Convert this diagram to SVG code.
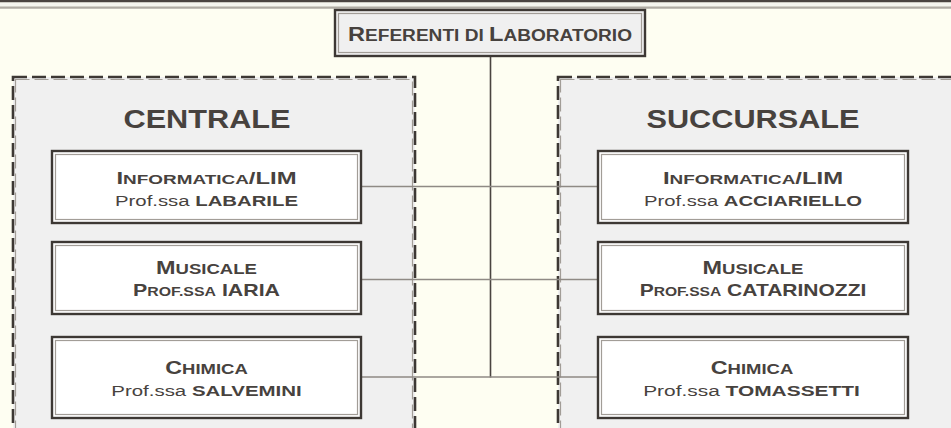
<svg xmlns="http://www.w3.org/2000/svg" width="951" height="428" viewBox="0 0 951 428">
<defs>
<style>
.bg{fill:#fefef2}
.cont{fill:#f0f0f0;stroke:none}
.dash{fill:none;stroke:#3d3834;stroke-width:2.6;stroke-dasharray:14 5}
.dash2{fill:none;stroke:#a29d97;stroke-width:1.2;stroke-dasharray:14 5}
.box{fill:#ffffff;stroke:#3d3834;stroke-width:2.4}
.boxin{fill:none;stroke:#a29d97;stroke-width:1.2}
.top{fill:#f0f0f0;stroke:#3d3834;stroke-width:2.4}
.t{font-family:"Liberation Sans",Arial,sans-serif;fill:#47423e;text-anchor:middle}
.b{font-weight:bold}
.title{font-family:"Liberation Sans",Arial,sans-serif;font-weight:bold;fill:#47423e;text-anchor:middle;font-size:25px}
.hl{stroke:#8f8a85;stroke-width:1.5;fill:none}
.vl{stroke:#4a4440;stroke-width:1.6;fill:none}
</style>
</defs>
<rect class="bg" x="0" y="0" width="951" height="428"/>
<rect x="0" y="0" width="951" height="2.5" fill="#4a4440"/>
<rect x="0" y="2.5" width="951" height="4" fill="#f5f5ee"/>
<rect x="0" y="6.5" width="951" height="1" fill="#aaa59e"/>
<rect x="0" y="7.5" width="951" height="1" fill="#8a847e"/>

<g id="centrale">
<rect class="cont" x="13" y="77" width="402" height="360"/>
<rect class="dash" x="13" y="77" width="402" height="360"/>
<rect class="dash2" x="15.5" y="79.5" width="397" height="360"/>
<text class="title" x="207" y="127.7" textLength="167" lengthAdjust="spacingAndGlyphs">CENTRALE</text>
</g>
<g id="succursale">
<rect class="cont" x="558" y="77" width="402" height="360"/>
<rect class="dash" x="558" y="77" width="402" height="360"/>
<rect class="dash2" x="560.5" y="79.5" width="397" height="360"/>
<text class="title" x="753" y="127.7" textLength="213" lengthAdjust="spacingAndGlyphs">SUCCURSALE</text>
</g>

<g id="connectors">
<line class="vl" x1="490.5" y1="56" x2="490.5" y2="377.5"/>
<line class="hl" x1="361" y1="186.5" x2="598" y2="186.5"/>
<line class="hl" x1="361" y1="279.5" x2="598" y2="279.5"/>
<line class="hl" x1="361" y1="377" x2="598" y2="377" stroke="#6f6a65"/>
</g>

<g id="referenti">
<rect class="top" x="335" y="10" width="310" height="46"/>
<rect class="boxin" x="338.5" y="13.5" width="303" height="39"/>
<text class="t b" x="490" y="40.7" textLength="284" lengthAdjust="spacingAndGlyphs"><tspan font-size="19.5">R</tspan><tspan font-size="15.8">EFERENTI DI </tspan><tspan font-size="19.5">L</tspan><tspan font-size="15.8">ABORATORIO</tspan></text>
</g>

<g id="c-informatica">
<rect class="box" x="52" y="151" width="309" height="72"/>
<rect class="boxin" x="55.5" y="154.5" width="302" height="65"/>
<text class="t b" x="206.5" y="184" textLength="180" lengthAdjust="spacingAndGlyphs"><tspan font-size="17">I</tspan><tspan font-size="13.5">NFORMATICA</tspan><tspan font-size="17">/LIM</tspan></text>
<text class="t" x="206.5" y="206" font-size="15.4" textLength="183" lengthAdjust="spacingAndGlyphs">Prof.ssa <tspan class="b">LABARILE</tspan></text>
</g>
<g id="c-musicale">
<rect class="box" x="52" y="242" width="309" height="72"/>
<rect class="boxin" x="55.5" y="245.5" width="302" height="65"/>
<text class="t b" x="206.5" y="274.3" textLength="101" lengthAdjust="spacingAndGlyphs"><tspan font-size="17.7">M</tspan><tspan font-size="14">USICALE</tspan></text>
<text class="t b" x="206.5" y="296" textLength="147" lengthAdjust="spacingAndGlyphs"><tspan font-size="16.3">P</tspan><tspan font-size="12.1">ROF.SSA</tspan><tspan font-size="16.3"> IARIA</tspan></text>
</g>
<g id="c-chimica">
<rect class="box" x="52" y="337" width="309" height="81"/>
<rect class="boxin" x="55.5" y="340.5" width="302" height="74"/>
<text class="t b" x="206.5" y="374" textLength="82.5" lengthAdjust="spacingAndGlyphs"><tspan font-size="17.7">C</tspan><tspan font-size="14">HIMICA</tspan></text>
<text class="t" x="206.5" y="395.7" font-size="15.4" textLength="190.5" lengthAdjust="spacingAndGlyphs">Prof.ssa <tspan class="b">SALVEMINI</tspan></text>
</g>

<g id="s-informatica">
<rect class="box" x="598" y="151" width="310" height="72"/>
<rect class="boxin" x="601.5" y="154.5" width="303" height="65"/>
<text class="t b" x="753" y="184" textLength="180" lengthAdjust="spacingAndGlyphs"><tspan font-size="17">I</tspan><tspan font-size="13.5">NFORMATICA</tspan><tspan font-size="17">/LIM</tspan></text>
<text class="t" x="753" y="206" font-size="15.4" textLength="218" lengthAdjust="spacingAndGlyphs">Prof.ssa <tspan class="b">ACCIARIELLO</tspan></text>
</g>
<g id="s-musicale">
<rect class="box" x="598" y="242" width="310" height="72"/>
<rect class="boxin" x="601.5" y="245.5" width="303" height="65"/>
<text class="t b" x="753" y="274.3" textLength="101" lengthAdjust="spacingAndGlyphs"><tspan font-size="17.7">M</tspan><tspan font-size="14">USICALE</tspan></text>
<text class="t b" x="753" y="296" textLength="226.7" lengthAdjust="spacingAndGlyphs"><tspan font-size="16.3">P</tspan><tspan font-size="12.1">ROF.SSA</tspan><tspan font-size="16.3"> CATARINOZZI</tspan></text>
</g>
<g id="s-chimica">
<rect class="box" x="598" y="337" width="310" height="81"/>
<rect class="boxin" x="601.5" y="340.5" width="303" height="74"/>
<text class="t b" x="752" y="374" textLength="82.5" lengthAdjust="spacingAndGlyphs"><tspan font-size="17.7">C</tspan><tspan font-size="14">HIMICA</tspan></text>
<text class="t" x="751.5" y="395.7" font-size="15.4" textLength="216.7" lengthAdjust="spacingAndGlyphs">Prof.ssa <tspan class="b">TOMASSETTI</tspan></text>
</g>
</svg>
